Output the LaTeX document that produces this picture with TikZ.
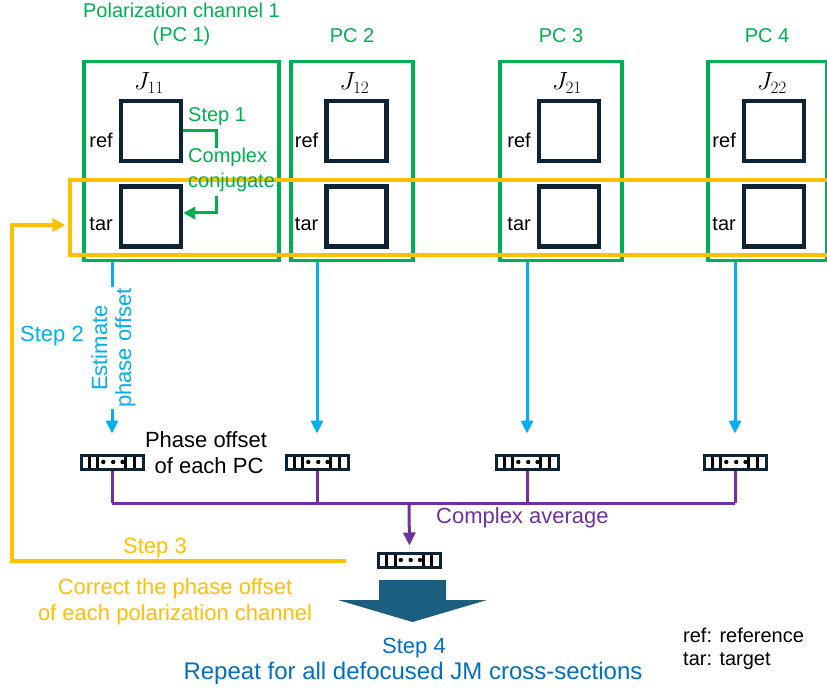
\documentclass[tikz,border=0pt]{standalone}
\usepackage[no-math]{fontspec}
\setmainfont{Liberation Sans}
\usetikzlibrary{arrows.meta,calc}

\definecolor{pcgreen}{RGB}{0,176,80}
\definecolor{corrorange}{RGB}{255,192,0}
\definecolor{estblue}{RGB}{0,176,240}
\definecolor{avgpurple}{RGB}{112,48,160}
\definecolor{jmnavy}{RGB}{14,35,52}
\definecolor{bigteal}{RGB}{28,94,127}
\definecolor{stepblue}{RGB}{0,112,192}

\begin{document}
\begin{tikzpicture}[x=1pt,y=-1pt,
  txt/.style={inner sep=1pt,font=\fontsize{20}{24}\selectfont},
  bigtxt/.style={inner sep=1pt,font=\fontsize{22}{26}\selectfont},
  pcbox/.style={draw=pcgreen,line width=3.5pt,minimum height=199pt,inner sep=0pt},
  jsq/.style={draw=jmnavy,line width=4.5pt,minimum size=60pt,inner sep=0pt},
  vec/.style={draw=jmnavy,line width=3pt,minimum width=62pt,minimum height=14pt,inner sep=0pt,
    path picture={
      \foreach \f in {0.13,0.27,0.72,0.86}
        \draw[black,line width=3pt]
          ($(path picture bounding box.south west)!\f!(path picture bounding box.south east)$)
          -- ($(path picture bounding box.north west)!\f!(path picture bounding box.north east)$);
      \foreach \f in {0.36,0.52,0.67}
        \fill[black] ($(path picture bounding box.west)!\f!(path picture bounding box.east)$) circle (2.2pt);
    }},
  grnline/.style={draw=pcgreen,line width=3pt},
  estarr/.style={draw=estblue,line width=3pt,-{Triangle[length=13pt,width=12pt]}},
  avgline/.style={draw=avgpurple,line width=3pt},
  corrline/.style={draw=corrorange,line width=3.5pt}]
\useasboundingbox (0,0) rectangle (827,692);
% the four polarization channels, with J_ij as ref and tar
\node[txt,anchor=base,text=pcgreen] (t1a) at (181.5,18) {Polarization channel 1};
\node[txt,anchor=base,text=pcgreen] (t1b) at (181.5,42) {(PC 1)};
\foreach \i/\x in {2/352,3/561,4/767}
  \node[txt,anchor=base,text=pcgreen] (t\i) at (\x,43) {PC \i};
% averaged phase offset and the bus to it
\node[vec] (vavg) at (409.5,560) {};
\coordinate (bus) at (409,503);
\foreach \i/\bx/\bw/\sx/\j/\vx in {1/181.5/195/151/11/112,2/352/122/356.5/12/317,
    3/561/122/569/21/527,4/767.5/119/774/22/735} {
  \node[pcbox,minimum width=\bw] (pc\i) at (\bx,161) {};
  \node[jsq] (ref\i) at (\sx,131) {};
  \node[jsq] (tar\i) at (\sx,216.5) {};
  \node[txt,anchor=base,font=\fontsize{23}{24}\selectfont] (j\i) at (\sx-2,90) {$J_{\j}$};
  \node[txt,anchor=base east] (rl\i) at (\sx-37,148) {ref};
  \node[txt,anchor=base east] (tl\i) at (\sx-37,231) {tar};
  \node[vec] (v\i) at (\vx,462) {};
  \draw[estarr,shorten >=20pt] (pc\i.south -| v\i.north) -- (v\i.north);
  \draw[avgline] (v\i.south) -- (v\i.south |- bus);
}
% row of targets to be corrected
\node[draw=corrorange,line width=3.5pt,minimum width=780,minimum height=75,inner sep=0pt]
  (trow) at (460,217.5) {};
% Step 1
\draw[grnline] (ref1.east) -| ($(ref1.east)+(33,17)$);
\draw[grnline,-{Triangle[length=12pt,width=12pt]}]
  ($(tar1.east)+(33,-20)$) |- ([yshift=3.5pt]tar1.east);
\node[txt,anchor=base west,text=pcgreen] (s1) at (187,122) {Step 1};
\node[txt,anchor=base west,text=pcgreen] (cc1) at (187,163) {Complex};
\node[txt,anchor=base west,text=pcgreen] (cc2) at (187,188) {conjugate};
% Step 2
\node[bigtxt,anchor=base west,text=estblue] (s2) at (19,342) {Step 2};
\node[bigtxt,fill=white,rotate=90,align=center,font=\fontsize{22}{24}\selectfont,
  text=estblue] (est) at (113.5,348) {Estimate\\phase offset};
\node[bigtxt,anchor=base] (po1) at (206,447) {Phase offset};
\node[bigtxt,anchor=base] (po2) at (209,473) {of each PC};
% complex average
\draw[avgline] (v1.south |- bus) -- (v4.south |- bus);
\draw[avgline,-{Triangle[length=13pt,width=12pt]},shorten >=6pt] (bus) -- (vavg.north);
\node[bigtxt,anchor=base west,text=avgpurple] (avg) at (435,523) {Complex average};
% Step 3
\coordinate (s3end) at (346,561);
\draw[corrline,-{Triangle[length=13pt,width=13pt]},shorten >=3pt]
  (s3end) -| (12,225) -- ([yshift=-7.5pt]trow.west);
\node[bigtxt,anchor=base,text=corrorange] (s3) at (155,553) {Step 3};
\node[bigtxt,anchor=base,text=corrorange] (co1) at (175,594) {Correct the phase offset};
\node[bigtxt,anchor=base,text=corrorange] (co2) at (175,620) {of each polarization channel};
% Step 4
\fill[bigteal] (379,580) -- (446,580) -- (446,600) -- (487,600) -- (412.5,622)
  -- (338,600) -- (379,600) -- cycle;
\node[bigtxt,anchor=base,text=stepblue] (s4) at (414,653) {Step 4};
\node[inner sep=1pt,font=\fontsize{24}{28}\selectfont,anchor=base,text=stepblue] (rep) at (413,679)
  {Repeat for all defocused JM cross-sections};
% legend
\node[txt,anchor=base west] (lg1) at (682,642) {ref: reference};
\node[txt,anchor=base west] (lg2) at (682,665) {tar: target};
\end{tikzpicture}
\end{document}
